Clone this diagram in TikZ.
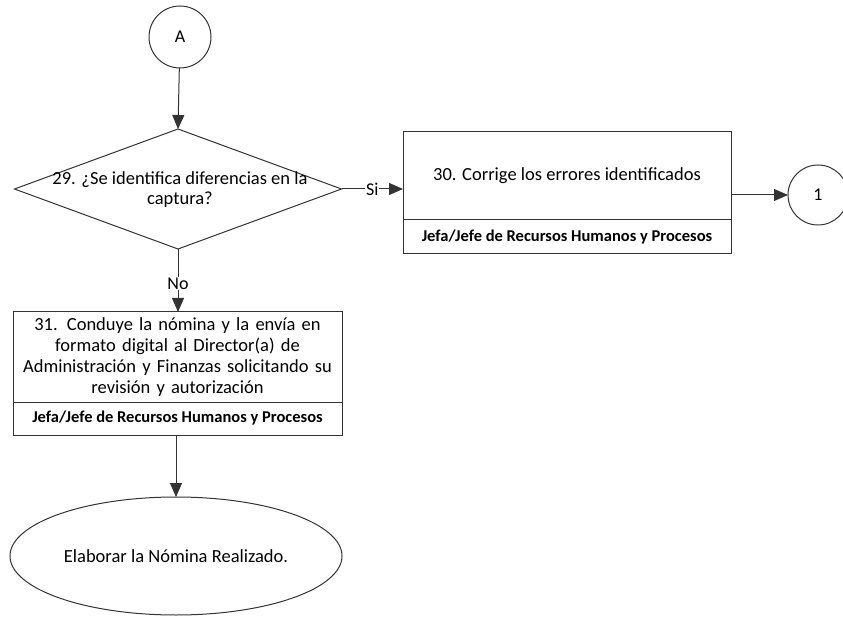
\documentclass[tikz,border=0pt]{standalone}
\usepackage{fontspec}
\setmainfont{Carlito}
\usetikzlibrary{shapes.geometric,arrows.meta}
\tikzset{
  every node/.style={inner sep=0pt, outer sep=0pt},
  lnk/.style={draw=black!80, line width=1pt, -{Triangle[length=14pt,width=12pt]}},
  shp/.style={draw=black!80, line width=1pt, fill=white},
  conn/.style={shp, circle, minimum size=62pt, font=\fontsize{18}{20}\selectfont},
  task/.style={shp, rectangle, align=center, font=\fontsize{18.5}{21}\selectfont},
  role/.style={shp, rectangle, align=center, font=\fontsize{16.5}{18}\selectfont\bfseries},
  lbl/.style={font=\fontsize{18}{20}\selectfont, fill=white, inner sep=1pt}
}
\begin{document}
\begin{tikzpicture}[x=1pt,y=-1pt]
\useasboundingbox (0,0) rectangle (843,617);
\node[conn] (A) at (180,37) {A};
\node[shp, diamond, minimum width=327pt, minimum height=120pt, aspect=2.7] (d29) at (178,189) {};
\node[align=center, font=\fontsize{18.5}{20}\selectfont] (t29) at (180,190) {29. ¿Se identifica diferencias en la\\captura?};
\node[task, minimum width=328pt, minimum height=88pt] (b30) at (567,176) {\raisebox{-6pt}{30. Corrige los errores identificados}};
\node[role, minimum width=328pt, minimum height=34pt, anchor=north] (r30) at (b30.south) {Jefa/Jefe de Recursos Humanos y Procesos};
\node[conn, minimum size=60pt] (c1) at (818,195) {1};
\node[task, minimum width=329pt, minimum height=90pt, text width=325pt] (b31) at (177.5,357) {31. Conduye la nómina y la envía en\\formato digital al Director(a) de\\Administración y Finanzas solicitando su\\revisión y autorización};
\node[role, minimum width=329pt, minimum height=33pt, anchor=north] (r31) at (b31.south) {Jefa/Jefe de Recursos Humanos y Procesos};
\node[shp, ellipse, minimum width=332pt, minimum height=118pt, font=\fontsize{18.5}{20}\selectfont] (e) at (176,556) {Elaborar la Nómina Realizado.};
\draw[lnk] (A) -- (d29.north);
\draw[lnk] (d29.east) -- node[lbl, pos=0.5] {Si} (b30.west |- d29.east);
\draw[lnk] (d29.south) -- node[lbl, pos=0.55] {No} (d29.south |- b31.north);
\draw[lnk] (b30.east |- c1.west) -- (c1.west);
\draw[lnk] (r31.south -| e.north) -- (e.north);
\end{tikzpicture}
\end{document}
